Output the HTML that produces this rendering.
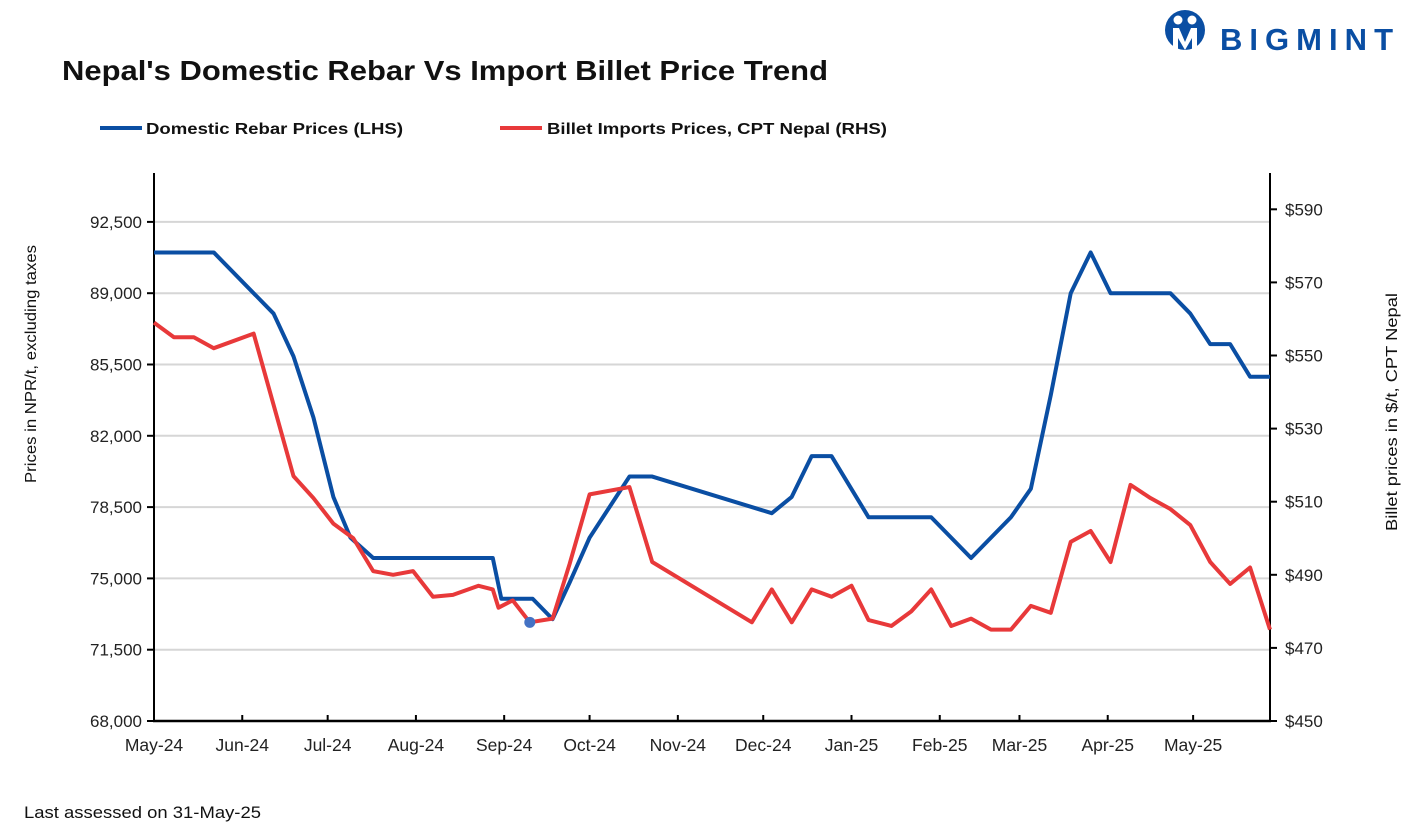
<!DOCTYPE html>
<html><head><meta charset="utf-8">
<style>
body{margin:0;background:#fff;width:1418px;height:835px;overflow:hidden;font-family:"Liberation Sans",Arial,sans-serif;}
svg{display:block}
</style></head>
<body>
<svg id="chart" width="1418" height="835" viewBox="0 0 1418 835">
  <g>
    <circle cx="1185" cy="30" r="20" fill="#0a4ea3"/>
    <circle cx="1178" cy="20" r="4.5" fill="#fff"/>
    <circle cx="1192" cy="20" r="4.5" fill="#fff"/>
    <path d="M1173 28 L1179 28 L1185 42 L1191 28 L1197 28 L1197 50 L1192 50 L1192 38 L1185 50 L1178 38 L1178 50 L1173 50 Z" fill="#fff"/>
    <text x="1220" y="50" font-size="31" font-weight="bold" fill="#0a4ea3" textLength="173" lengthAdjust="spacing">BIGMINT</text>
  </g>
  <text x="62" y="80" font-size="28" font-weight="bold" fill="#111" textLength="766" lengthAdjust="spacingAndGlyphs">Nepal's Domestic Rebar Vs Import Billet Price Trend</text>
  <g>
    <g>
      <line x1="100" y1="128" x2="142" y2="128" stroke="#0a4ea3" stroke-width="4"/>
      <text x="146" y="134" font-size="16" font-weight="bold" fill="#111" textLength="257" lengthAdjust="spacingAndGlyphs">Domestic Rebar Prices (LHS)</text>
    </g>
    <g>
      <line x1="500" y1="128" x2="542" y2="128" stroke="#e8393a" stroke-width="4"/>
      <text x="547" y="134" font-size="16" font-weight="bold" fill="#111" textLength="340" lengthAdjust="spacingAndGlyphs">Billet Imports Prices, CPT Nepal (RHS)</text>
    </g>
  </g>
  <g id="grid"></g>
  <g id="axes"></g>
  <g id="series"></g>
  <text transform="translate(36,364) rotate(-90)" text-anchor="middle" font-size="16" fill="#111" textLength="238" lengthAdjust="spacingAndGlyphs">Prices in NPR/t, excluding taxes</text>
  <text transform="translate(1397,412) rotate(-90)" text-anchor="middle" font-size="16" fill="#111" textLength="238" lengthAdjust="spacingAndGlyphs">Billet prices in $/t, CPT Nepal</text>
  <text x="24" y="818" font-size="17" fill="#111" textLength="237" lengthAdjust="spacingAndGlyphs">Last assessed on 31-May-25</text>
</svg>
<script>
const rebarDays = [0,21,42,49,56,63,69,77,119,122,133,140,146,153,167,175,217,224,231,238,251,273,287,301,308,315,322,329,336,357,364,371,378,385,392];
const rebarValues = [91000,91000,88000,85900,82900,79000,77000,76000,76000,74000,74000,73000,74800,77000,80000,80000,78200,79000,81000,81000,78000,78000,76000,78000,79400,84000,89000,91000,89000,89000,88000,86500,86500,84900,84900];
const billetDays = [0,7,14,21,35,49,56,63,70,77,84,91,98,105,114,119,121,126,132,140,146,153,167,175,210,217,224,231,238,245,251,259,266,273,280,287,294,301,308,315,322,329,336,343,350,357,364,371,378,385,392];
const billetValues = [559,555,555,552,556,517,511,504,500,491,490,491,484,484.5,487,486,481,483,477,478,493,512,514,493.5,477,486,477,486,484,487,477.6,476,480,486,476,478,475,475,481.5,479.6,499,502,493.5,514.6,511,508,503.6,493.5,487.5,492,475];
const leftTicks = [68000,71500,75000,78500,82000,85500,89000,92500];
const rightTicks = [450,470,490,510,530,550,570,590];
const monthLabels = ["May-24","Jun-24","Jul-24","Aug-24","Sep-24","Oct-24","Nov-24","Dec-24","Jan-25","Feb-25","Mar-25","Apr-25","May-25"];
const monthDays = [0,31,61,92,123,153,184,214,245,276,304,335,365];
const markerDay = 132, markerValue = 477;

const NS="http://www.w3.org/2000/svg";
const X0=154,X1=1270,Y0=721,YT=173,DMAX=392;
const xS=d=>X0+(d/DMAX)*(X1-X0);
const yL=v=>Y0-(v-68000)/3500*71.3;
const yR=v=>Y0-(v-450)/20*73.1;
function mk(tag,attrs,parent){const e=document.createElementNS(NS,tag);for(const k in attrs)e.setAttribute(k,attrs[k]);parent.appendChild(e);return e;}
const grid=document.getElementById('grid'),axes=document.getElementById('axes'),series=document.getElementById('series');

leftTicks.forEach(v=>{
  const y=yL(v);
  if(v>68000){const g=mk('line',{x1:X0,x2:X1,y1:y,y2:y,stroke:'#d6d6d6','stroke-width':2},grid);
  
  }
  mk('line',{x1:X0-7,x2:X0,y1:y,y2:y,stroke:'#000','stroke-width':2},axes);
  const t=mk('text',{x:X0-12,y:y+6,'text-anchor':'end','font-size':17,fill:'#222'},axes);
  t.textContent=v.toLocaleString('en-US');
  
  
});
rightTicks.forEach(v=>{
  const y=yR(v);
  mk('line',{x1:X1,x2:X1+7,y1:y,y2:y,stroke:'#000','stroke-width':2},axes);
  const t=mk('text',{x:X1+15,y:y+6,'font-size':17,fill:'#222'},axes);
  t.textContent='$'+v;
  
  
});
monthDays.forEach((d,i)=>{
  const x=xS(d);
  mk('line',{x1:x,x2:x,y1:Y0,y2:Y0-6,stroke:'#000','stroke-width':2},axes);
  const t=mk('text',{x:x,y:Y0+30,'text-anchor':'middle','font-size':17.5,fill:'#222'},axes);
  t.textContent=monthLabels[i];
  
  
});
const la=mk('line',{x1:X0,x2:X0,y1:YT,y2:Y0+1,stroke:'#000','stroke-width':2},axes);


const ra=mk('line',{x1:X1,x2:X1,y1:YT,y2:Y0+1,stroke:'#000','stroke-width':2},axes);


const xa=mk('line',{x1:X0-1,x2:X1+1,y1:Y0,y2:Y0,stroke:'#000','stroke-width':2.5},axes);



const pb=mk('polyline',{points:rebarDays.map((d,i)=>xS(d)+','+yL(rebarValues[i])).join(' '),fill:'none',stroke:'#0a4ea3','stroke-width':4,'stroke-linejoin':'round'},series);


const pr=mk('polyline',{points:billetDays.map((d,i)=>xS(d)+','+yR(billetValues[i])).join(' '),fill:'none',stroke:'#e8393a','stroke-width':4,'stroke-linejoin':'round'},series);


const mkr=mk('circle',{cx:xS(markerDay),cy:yR(markerValue),r:5.5,fill:'#4472c4'},series);


</script>
</body></html>
